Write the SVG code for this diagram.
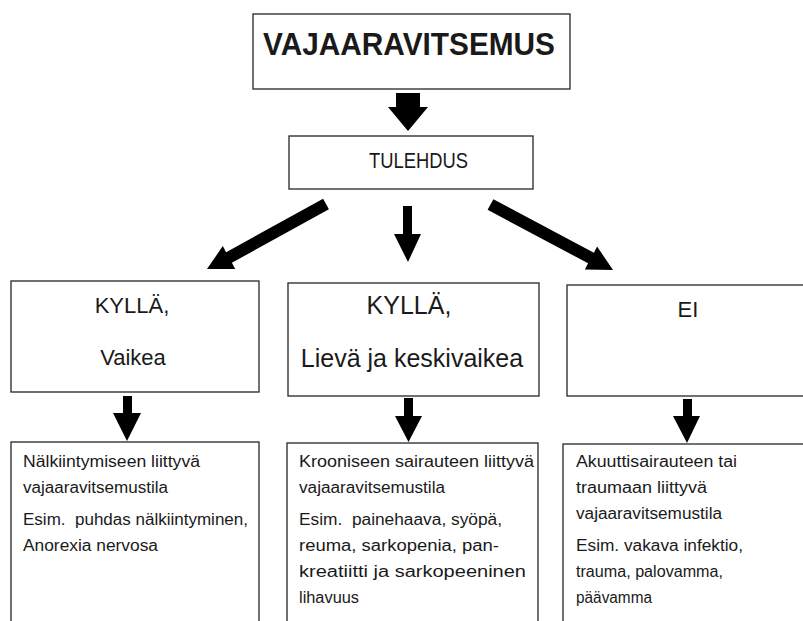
<svg xmlns="http://www.w3.org/2000/svg" width="803" height="621" viewBox="0 0 803 621">
<style>
.box{fill:#fff;stroke:#262626;stroke-width:1.3}
.t{font-family:"Liberation Sans",Arial,sans-serif;fill:#1a1a1a}
.title{font-weight:bold;font-size:32px}
.mid{font-size:22px;text-anchor:middle}
.big{font-size:25px;text-anchor:middle}
.s{font-size:16px}
.arrow{fill:#000}
</style>
<rect width="803" height="621" fill="#fff"/>
<g id="node-vajaaravitsemus">
<rect class="box" x="253" y="14" width="317" height="75"/>
<text class="t title" x="263" y="55" textLength="292" lengthAdjust="spacingAndGlyphs">VAJAARAVITSEMUS</text>
</g>
<g id="node-tulehdus">
<rect class="box" x="289" y="136" width="244" height="53"/>
<text class="t" x="369" y="168" font-size="22" textLength="99" lengthAdjust="spacingAndGlyphs">TULEHDUS</text>
</g>
<g id="node-kylla-vaikea">
<rect class="box" x="11" y="281" width="248" height="111"/>
<text class="t mid" x="132" y="313">KYLLÄ,</text>
<text class="t mid" x="133" y="365">Vaikea</text>
</g>
<g id="node-kylla-lieva">
<rect class="box" x="288" y="283" width="251" height="113"/>
<text class="t big" x="409" y="314">KYLLÄ,</text>
<text class="t big" x="412" y="367">Lievä ja keskivaikea</text>
</g>
<g id="node-ei">
<rect class="box" x="567" y="285" width="250" height="111"/>
<text class="t mid" x="688" y="317">EI</text>
</g>
<g id="node-nalkiintyminen">
<rect class="box" x="11" y="442" width="248" height="200"/>
<text class="t s" x="23" y="467" textLength="177" lengthAdjust="spacingAndGlyphs">Nälkiintymiseen liittyvä</text>
<text class="t s" x="23" y="493" textLength="145" lengthAdjust="spacingAndGlyphs">vajaaravitsemustila</text>
<text class="t s" x="23" y="525" xml:space="preserve" textLength="225" lengthAdjust="spacingAndGlyphs">Esim.  puhdas nälkiintyminen,</text>
<text class="t s" x="23" y="551" textLength="135" lengthAdjust="spacingAndGlyphs">Anorexia nervosa</text>
</g>
<g id="node-krooninen">
<rect class="box" x="287" y="443" width="251" height="200"/>
<text class="t s" x="299" y="467" textLength="235" lengthAdjust="spacingAndGlyphs">Krooniseen sairauteen liittyvä</text>
<text class="t s" x="299" y="493" textLength="146" lengthAdjust="spacingAndGlyphs">vajaaravitsemustila</text>
<text class="t s" x="299" y="525" xml:space="preserve" textLength="203" lengthAdjust="spacingAndGlyphs">Esim.  painehaava, syöpä,</text>
<text class="t s" x="299" y="551" textLength="200" lengthAdjust="spacingAndGlyphs">reuma, sarkopenia, pan-</text>
<text class="t s" x="299" y="577" textLength="227" lengthAdjust="spacingAndGlyphs">kreatiitti ja sarkopeeninen</text>
<text class="t s" x="299" y="603" textLength="60" lengthAdjust="spacingAndGlyphs">lihavuus</text>
</g>
<g id="node-akuutti">
<rect class="box" x="563" y="444" width="254" height="200"/>
<text class="t s" x="576" y="467" textLength="161" lengthAdjust="spacingAndGlyphs">Akuuttisairauteen tai</text>
<text class="t s" x="576" y="493" textLength="131" lengthAdjust="spacingAndGlyphs">traumaan liittyvä</text>
<text class="t s" x="576" y="519" textLength="146" lengthAdjust="spacingAndGlyphs">vajaaravitsemustila</text>
<text class="t s" x="576" y="551" textLength="167" lengthAdjust="spacingAndGlyphs">Esim. vakava infektio,</text>
<text class="t s" x="576" y="577" textLength="147" lengthAdjust="spacingAndGlyphs">trauma, palovamma,</text>
<text class="t s" x="576" y="603" textLength="76" lengthAdjust="spacingAndGlyphs">päävamma</text>
</g>
<g id="connectors">
<polygon class="arrow" points="396,93 420,93 420,107 428,107 408,131 388,107 396,107"/>
<polygon class="arrow" points="403,206 412,206 412,234 421,234 408,262 394,234 403,234"/>
<polygon class="arrow" points="328.9,209.3 231.9,262.8 235.2,268.9 207,269 222.8,246.1 226.1,252.2 323.1,198.7"/>
<polygon class="arrow" points="487.6,209.8 588.1,263.3 584.9,269.5 613,270 597.1,246.5 593.9,252.7 493.4,199.2"/>
<polygon class="arrow" points="123,396 132,396 132,413 141,413 127,441 113,413 123,413"/>
<polygon class="arrow" points="404,398 413,398 413,416 422,416 408.5,442 395,416 404,416"/>
<polygon class="arrow" points="683,399 692,399 692,416 700,416 687,443 673,416 683,416"/>
</g>
</svg>
